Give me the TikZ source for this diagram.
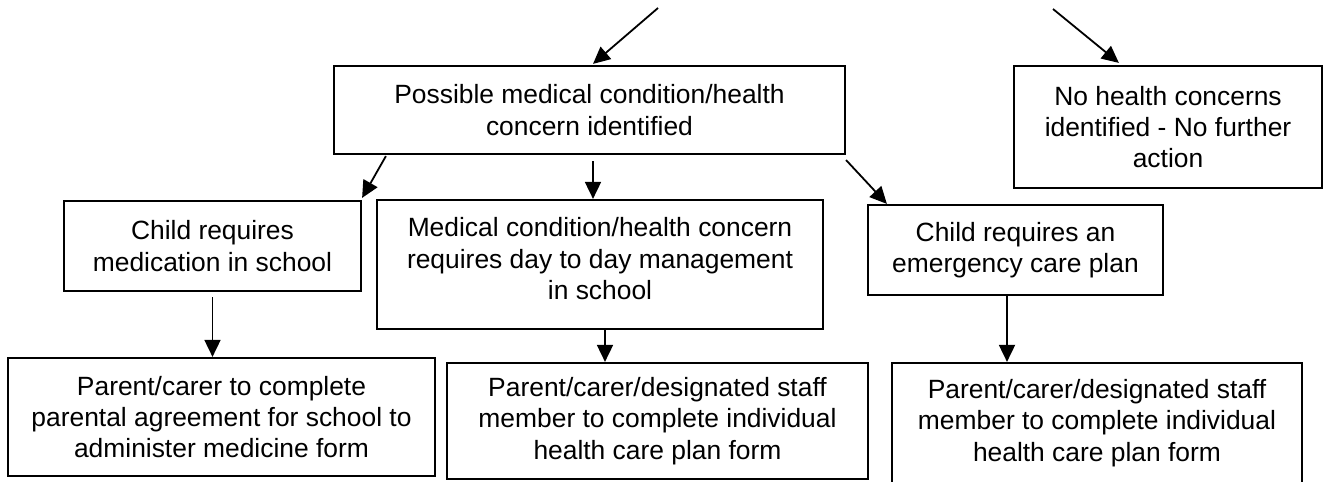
\documentclass[tikz,border=0pt]{standalone}
\usepackage{fontspec}
\setmainfont{Liberation Sans}
\usetikzlibrary{arrows.meta}
\begin{document}
\begin{tikzpicture}[x=0.5pt,y=-0.5pt,
  box/.style={draw, line width=1.1pt, inner sep=0pt, align=center,
    font=\fontsize{13.2pt}{15.6pt}\selectfont},
  arr/.style={line width=0.9pt, -{Triangle[length=8.5pt,width=8pt]}}]
\useasboundingbox (0,0) rectangle (1323,482);
\clip (0,0) rectangle (1323,482);
\node[box, minimum width=255.5pt, minimum height=44pt] (main) at (589.5,110)
  {Possible medical condition/health\\concern identified};
\node[box, minimum width=154pt, minimum height=61pt] (nohealth) at (1168,127)
  {No health concerns\\identified - No further\\action};
\node[box, minimum width=148.5pt, minimum height=45pt] (leftmid) at (212.5,246)
  {Child requires\\medication in school};
\node[box, minimum width=223pt, minimum height=64.5pt] (midmid) at (600,264.5)
  {Medical condition/health concern\\requires day to day management\\in school\rule[-6pt]{0pt}{6pt}};
\node[box, minimum width=147.5pt, minimum height=45pt] (rightmid) at (1015.5,250)
  {Child requires an\\emergency care plan};
\node[box, minimum width=213.5pt, minimum height=59pt] (botleft) at (221.5,417)
  {Parent/carer to complete\\parental agreement for school to\\administer medicine form};
\node[box, minimum width=210.5pt, minimum height=58pt] (botmid) at (657.5,421)
  {Parent/carer/designated staff\\member to complete individual\\health care plan form};
\node[box, minimum width=205pt, minimum height=60pt] (botright) at (1097,423)
  {Parent/carer/designated staff\\member to complete individual\\health care plan form};
\coordinate (t1) at (658,8);
\coordinate (t2) at (1053,9);
\draw[arr] (t1) -- ([xshift=1.75pt,yshift=0.5pt]main.north);
\draw[arr] (t2) -- ([xshift=53pt,yshift=1pt]nohealth.north west);
\draw[arr] ([xshift=26.5pt,yshift=-0.5pt]main.south west) -- ([yshift=1pt]leftmid.north east);
\draw[arr] ([xshift=1.75pt,yshift=-3pt]main.south) -- ([xshift=1.75pt]main.south |- midmid.north);
\draw[arr] ([yshift=-2.5pt]main.south east) -- ([xshift=10pt]rightmid.north west);
\draw[arr] ([yshift=-2.5pt]leftmid.south) -- (leftmid.south |- botleft.north);
\draw[arr] ([xshift=2.5pt]midmid.south) -- ([xshift=2.5pt]midmid.south |- botmid.north);
\draw[arr] ([xshift=-4.25pt]rightmid.south) -- ([xshift=-4.25pt]rightmid.south |- botright.north);
\end{tikzpicture}
\end{document}
